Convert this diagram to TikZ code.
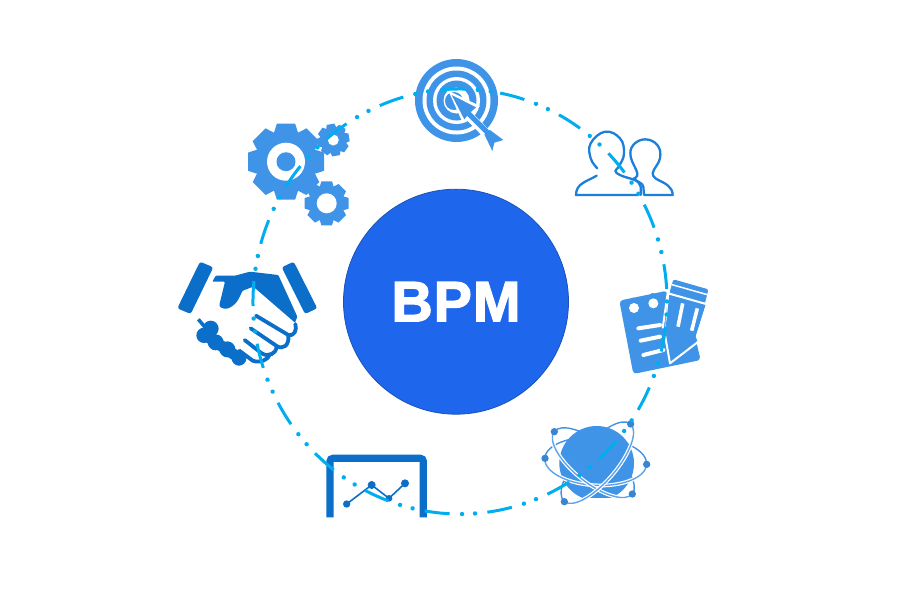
\documentclass[tikz,border=0pt]{standalone}
\usepackage{fontspec}
\setmainfont[BoldFeatures={FakeBold=2.4,LetterSpace=2}]{Liberation Sans}
\definecolor{iconblue}{HTML}{3F94E8}
\definecolor{handblue}{HTML}{0B6FC9}
\definecolor{peopleblue}{HTML}{1B7FDB}
\definecolor{corecolor}{HTML}{1E66EC}
\definecolor{coreedge}{HTML}{1A52B8}
\definecolor{ringblue}{HTML}{00AEEF}
\newcommand{\mygear}[6]{%
 \begin{scope}[shift={(#1,#2)}]
  \fill[iconblue] (0,0) circle[radius=#4];
  \foreach \k in {0,...,7}{
   \fill[iconblue,rotate=#6+45*\k] ({-0.36*#3},{-0.78*#4}) -- ({-0.24*#3},{-#3}) -- ({0.24*#3},{-#3}) -- ({0.36*#3},{-0.78*#4}) -- cycle;
  }
  \fill[white] (0,0) circle[radius=#5];
 \end{scope}}
\begin{document}
\begin{tikzpicture}[x=1pt,y=-1pt,
  zoomed/.style={scale=0.33333},
  finger/.style={draw=handblue,line width=3.8pt,line cap=round,line join=round},
  person/.style={draw=peopleblue,line width=2.3pt,line cap=round,line join=round},
  orbit/.style={draw=#1,line width=1.4pt},
  planetdot/.style={fill=iconblue!90!black}]
\useasboundingbox (0,0) rectangle (900,600);
\fill[white] (0,0) rectangle (900,600);

% target
\fill[iconblue] (456.5,100.5) circle[radius=41.5];
\fill[white] (456.5,100.5) circle[radius=34];
\fill[iconblue] (456.5,100.5) circle[radius=30];
\fill[white] (456.5,100.5) circle[radius=23.5];
\fill[iconblue] (456.5,100.5) circle[radius=20];
\fill[white] (456.5,100.5) circle[radius=13];
\fill[iconblue] (454,101) circle[radius=9];
\begin{scope}[shift={(405,50)},zoomed]
 \draw[white,line width=9pt] (170,175) -- (255,262);
 \fill[white] (130,122) -- (172,216) -- (225,168) -- cycle;
 \draw[white,line width=3pt] (238,253) -- (255,240) -- (295,270) -- (268,278) -- (262,303) -- cycle;
 \draw[iconblue,line width=5pt] (180,180) -- (250,250);
 \fill[iconblue] (140,135) -- (178,208) -- (193,190) -- (213,172) -- cycle;
 \fill[iconblue] (238,253) -- (255,240) -- (295,270) -- (268,278) -- (262,303) -- cycle;
\end{scope}

% gears
\mygear{326.7}{203.3}{22}{17.5}{10}{0}
\mygear{286}{161.7}{38}{30.5}{19}{0}
\fill[iconblue] (286,161.7) circle[radius=9.5];
\mygear{333.3}{140}{16}{12.5}{5.5}{10}

% handshake
\fill[handblue,rounded corners=2.5pt] (200,261.7) -- (213.3,267.3) -- (190.7,314) -- (177.3,308.3) -- cycle;
\fill[handblue,rounded corners=2.5pt] (281.7,267.3) -- (293.7,261.7) -- (317.3,308.3) -- (305,314) -- cycle;
\begin{scope}[shift={(170,250)},zoomed]
 \fill[handblue,rounded corners=1pt] (127,95) -- (137,77) -- (195,77) -- (240,65) -- (325,75) -- (382,200) -- (375,218) -- (250,110) -- (218,122) .. controls (208,140) and (205,160) .. (175,175) .. controls (160,178) and (150,172) .. (148,165) -- (165,95) -- cycle;
 \draw[finger] (258,197) -- (355,255) .. controls (372,260) and (382,240) .. (376,222);
 \draw[finger] (242,235) -- (320,288) .. controls (340,300) and (358,285) .. (355,258);
 \draw[finger] (224,270) -- (275,310) .. controls (295,322) and (318,312) .. (320,290);
 \draw[finger] (208,302) -- (248,332) .. controls (270,340) and (295,330) .. (300,312);
 \draw[handblue,line width=3.5pt] (85,208) -- (108,235);
 \draw[handblue,line width=11pt,line cap=round] (105,255) -- (205,322);
 \fill[handblue] (122,236) circle[radius=24];
 \fill[handblue] (102,256) circle[radius=23];
 \fill[handblue] (137,277) circle[radius=24];
 \fill[handblue] (172,298) circle[radius=24];
 \fill[handblue] (207,325) circle[radius=22];
\end{scope}

% people
\begin{scope}[shift={(570,125)},zoomed]
 \draw[person] plot[smooth,tension=.7] coordinates {(82,130) (62,100) (62,55) (105,20) (150,40) (162,85) (148,122) (136,138) (150,150) (172,158)};
 \draw[person] (80,152) .. controls (50,170) and (18,175) .. (18,210) -- (205,210);
 \draw[person] (172,158) .. controls (195,165) and (205,165) .. (212,185) -- (212,210);
 \draw[person] plot[smooth,tension=.7] coordinates {(192,160) (202,145) (182,95) (190,60) (225,43) (262,60) (270,100) (248,145) (265,165)};
 \draw[person] (265,165) .. controls (285,175) and (308,185) .. (308,210) -- (222,210) -- (220,185) .. controls (218,172) and (200,172) .. (192,160);
\end{scope}

% notepad
\begin{scope}[shift={(610,270)},zoomed]
 \fill[iconblue,rounded corners=3.5pt] (28,92) -- (172,62) -- (165,190) -- (255,200) -- (272,270) -- (70,312) -- cycle;
 \fill[iconblue] (178,74) -- (288,102) -- (255,205) -- (165,190) -- cycle;
 \fill[white] (72,114) circle[radius=15];
 \fill[white] (130,100) circle[radius=15];
 \fill[iconblue] (70,90) circle[radius=7];
 \fill[iconblue] (128,76) circle[radius=7];
 \draw[white,line width=4pt,line cap=round] (85,175) -- (150,165);
 \draw[white,line width=4pt,line cap=round] (92,212) -- (150,200);
 \draw[white,line width=4pt,line cap=round] (100,255) -- (160,240);
 \fill[iconblue,rounded corners=2pt] (190,28) -- (295,58) -- (285,100) -- (178,70) -- cycle;
 \draw[white,line width=1.5pt] (186,44) -- (292,74);
 \draw[white,line width=2pt] (175,70) -- (288,102);
 \draw[white,line width=2pt] (174,62) -- (158,175);
 \draw[white,line width=3.6pt] (218,100) -- (204,170);
 \draw[white,line width=3.6pt] (262,115) -- (245,182);
 \fill[white] (288,102) -- (300,102) -- (268,210) -- (258,200) -- cycle;
 \fill[iconblue] (262,213) -- (178,264) -- (158,190) -- (172,172) -- (192,182) -- (222,182) -- (255,195) -- cycle;
 \draw[white,line width=2pt,line join=round] (165,195) -- (180,280) -- (265,215);
\end{scope}

% planet
\begin{scope}[shift={(535,410)},zoomed]
 \foreach \cx/\cy/\ang/\ra/\rb in {182/154/-3.4/153/72,175/158/-38.6/150/60,187/158/49.5/153/58}{
  \begin{scope}[shift={(\cx,\cy)},rotate=\ang]
   \draw[orbit=iconblue] (-\ra,0) arc[x radius=\ra,y radius=\rb,start angle=180,end angle=360];
  \end{scope}
 }
 \begin{scope}
  \clip (0,0) rectangle (360,262);
  \fill[iconblue] (185,160) circle[radius=112];
 \end{scope}
 \foreach \cx/\cy/\ang/\ra/\rb in {182/154/-3.4/153/72,175/158/-38.6/150/60,187/158/49.5/153/58}{
  \begin{scope}[shift={(\cx,\cy)},rotate=\ang]
   \draw[white,line width=3.8pt] (\ra,0) arc[x radius=\ra,y radius=\rb,start angle=0,end angle=180];
   \draw[orbit=iconblue!85!white] (\ra,0) arc[x radius=\ra,y radius=\rb,start angle=0,end angle=180];
  \end{scope}
 }
 \foreach \p in {(58,65),(30,145),(335,163),(292,252),(88,275),(287,42)}{
  \fill[planetdot] \p circle[radius=11];
 }
\end{scope}

% chart
\begin{scope}[shift={(300,430)},zoomed]
 \draw[handblue,line width=7.2pt,rounded corners=3pt] (90,262) -- (90,85) -- (370,85) -- (370,262);
 \draw[handblue,line width=1.6pt] (140,222) -- (215,165) -- (267,205) -- (315,160);
 \fill[handblue] (140,222) circle[radius=11];
 \fill[handblue] (215,165) circle[radius=12];
 \fill[handblue] (267,205) circle[radius=10];
 \fill[handblue] (315,160) circle[radius=12];
\end{scope}

% ring
\coordinate (ringstart) at ({460+207*cos(-78.8)},{301.5+212.5*sin(-78.8)});
\draw[ringblue,line width=3pt,dash pattern=on 25pt off 37.9pt] (ringstart) arc[x radius=207,y radius=212.5,start angle=-78.8,end angle=281.2];
\draw[ringblue,line width=4.4pt,line cap=round,dash pattern=on 0.01pt off 12.99pt on 0.01pt off 49.89pt,dash phase=25.5pt] (ringstart) arc[x radius=207,y radius=212.5,start angle=-78.8,end angle=281.2];

% core
\node[circle,draw=coreedge,line width=0.8pt,fill=corecolor,minimum size=225pt,inner sep=0pt,text=white,font=\fontsize{57}{57}\selectfont\bfseries] (bpm) at (456,301.7) {BPM};
\end{tikzpicture}
\end{document}
